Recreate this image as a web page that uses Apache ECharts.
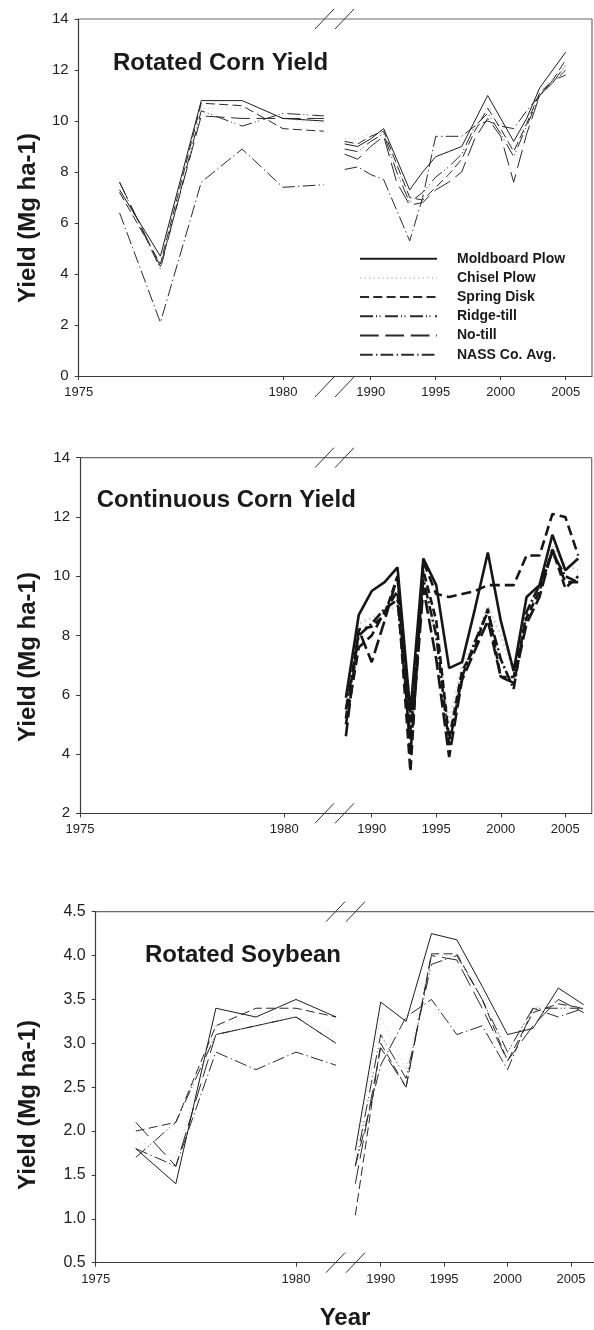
<!DOCTYPE html>
<html><head><meta charset="utf-8">
<script src="https://cdn.jsdelivr.net/npm/echarts@6/dist/echarts.min.js"></script>
<style>html,body{margin:0;padding:0;background:#fff}#c{width:594px;height:1330px}</style>
</head><body><div id="c"></div>
<script>
// ---------------- DATA ----------------
const seriesNames = ['Moldboard Plow', 'Chisel Plow', 'Spring Disk', 'Ridge-till', 'No-till', 'NASS Co. Avg.'];
const panelTitles = ['Rotated Corn Yield', 'Continuous Corn Yield', 'Rotated Soybean'];
const leftTickYears = [1975, 1980];
const rightTickYears = [1990, 1995, 2000, 2005];

// Rotated corn (order of rows = seriesNames)
const rcLeftYears = [1976, 1977, 1978, 1979, 1980, 1981];
const rcLeftValues = [
  [7.3, 4.7, 10.8, 10.8, 10.1, 10.0],
  [7.3, 4.6, 10.5, 10.5, 10.1, 9.9],
  [7.2, 4.4, 10.7, 10.6, 9.7, 9.6],
  [7.6, 4.2, 10.4, 9.8, 10.3, 10.2],
  [7.6, 4.3, 10.2, 10.1, 10.1, 10.1],
  [6.4, 2.1, 7.6, 8.9, 7.4, 7.5]
];
const rcRightYears = [1988, 1989, 1990, 1991, 1992, 1993, 1994, 1995, 1996, 1997, 1998, 1999, 2000, 2001, 2002, 2003, 2004, 2005];
const rcRightValues = [
  [9.1, 9.0, 9.3, 9.7, 8.5, 7.3, 8.0, 8.6, 8.8, 9.0, 10.0, 11.0, 10.1, 9.2, 10.1, 11.3, 12.0, 12.7],
  [9.3, 9.3, 9.5, 9.5, 8.2, 7.0, 7.1, 7.6, 8.0, 8.6, 9.7, 10.6, 9.9, 8.9, 10.0, 11.2, 11.7, 12.1],
  [9.2, 9.1, 9.4, 9.6, 8.3, 7.0, 6.9, 7.4, 7.9, 8.5, 9.6, 10.5, 9.7, 8.8, 9.9, 11.1, 11.6, 12.4],
  [8.9, 8.8, 9.2, 9.5, 8.0, 6.8, 7.2, 7.8, 8.2, 8.7, 9.8, 10.3, 9.5, 8.6, 9.8, 11.0, 11.5, 12.2],
  [8.7, 8.5, 9.0, 9.4, 7.6, 6.7, 6.8, 7.3, 7.6, 8.0, 9.3, 10.1, 9.4, 7.6, 9.5, 11.0, 11.6, 11.8],
  [8.1, 8.2, 7.9, 7.7, 6.5, 5.3, 7.0, 9.4, 9.4, 9.4, 9.8, 10.0, 9.8, 9.7, 10.4, 11.0, 11.5, 12.0]
];

// Continuous corn
const ccRightYears = [1988, 1989, 1990, 1991, 1992, 1993, 1994, 1995, 1996, 1997, 1998, 1999, 2000, 2001, 2002, 2003, 2004, 2005, 2006];
const ccRightValues = [
  [5.9, 8.7, 9.5, 9.8, 10.3, 5.4, 10.6, 9.7, 6.9, 7.1, 8.9, 10.8, 8.5, 6.8, 9.3, 9.7, 11.4, 10.2, 10.6],
  [5.6, 8.4, 8.6, 8.8, 9.0, 5.0, 9.8, 8.0, 5.0, 7.0, 7.8, 9.0, 8.0, 6.8, 8.8, 9.6, 11.0, 10.4, 10.2],
  [5.2, 8.2, 8.3, 8.7, 10.0, 4.8, 10.2, 8.5, 4.5, 6.8, 7.6, 8.9, 6.6, 6.6, 8.6, 9.5, 10.9, 9.6, 10.0],
  [5.5, 8.0, 8.4, 8.9, 9.2, 4.5, 9.9, 8.0, 4.3, 6.6, 7.8, 8.8, 7.2, 6.2, 8.8, 9.7, 10.8, 10.0, 9.8],
  [4.6, 8.2, 7.1, 8.5, 10.0, 4.0, 9.6, 7.2, 3.9, 6.5, 7.5, 8.5, 6.6, 6.4, 8.4, 9.3, 10.9, 9.8, 9.8],
  [5.0, 7.6, 8.0, 8.8, 9.5, 3.4, 10.5, 9.4, 9.3, 9.4, 9.5, 9.7, 9.7, 9.7, 10.7, 10.7, 12.1, 12.0, 10.7]
];

// Rotated soybean
const rsLeftYears = [1976, 1977, 1978, 1979, 1980, 1981];
const rsLeftValues = [
  [1.8, 1.4, 3.4, 3.3, 3.5, 3.3],
  [1.9, 1.7, 3.2, 3.3, 3.3, 3.1],
  [2.0, 2.1, 3.2, 3.4, 3.4, 3.3],
  [1.7, 2.1, 3.1, 3.2, 3.3, 3.0],
  [2.1, 1.6, 3.1, 3.2, 3.3, 3.0],
  [1.8, 1.6, 2.9, 2.7, 2.9, 2.75]
];
const rsRightYears = [1988, 1990, 1992, 1994, 1996, 1998, 2000, 2002, 2004, 2006];
const rsRightValues = [
  [1.78, 3.47, 3.25, 4.25, 4.18, 3.65, 3.1, 3.17, 3.63, 3.44],
  [1.7, 3.3, 2.7, 4.0, 4.0, 3.6, 2.9, 3.4, 3.5, 3.35],
  [1.04, 3.0, 2.5, 4.02, 4.02, 3.5, 2.8, 3.35, 3.45, 3.4],
  [1.6, 3.1, 2.6, 3.9, 4.0, 3.5, 2.9, 3.4, 3.4, 3.4],
  [1.4, 2.95, 2.5, 4.0, 3.95, 3.4, 2.8, 3.2, 3.5, 3.35],
  [1.6, 2.75, 3.3, 3.5, 3.1, 3.2, 2.7, 3.4, 3.3, 3.4]
];

// ---------------- LAYOUT / STYLE ----------------
const FONT = '"Liberation Sans", Arial, Helvetica, sans-serif';
const panels = [
  { top: 19, bottom: 376, L: 78.7, x1980: 283, bx: 335, x1990: 370.7, x2005: 565.7, R: 592, rightBorder: true,
    yMin: 0, yMax: 14, yInt: 2, dec: 0, yFont: 15, thick: false, botSlashOff: 11,
    titleX: 113, titleY: 63, yTitleY: 218,
    left: { years: rcLeftYears, values: rcLeftValues }, right: { years: rcRightYears, values: rcRightValues } },
  { top: 457.7, bottom: 813.3, L: 80, x1980: 284.3, bx: 335, x1990: 371.7, x2005: 565.3, R: 591.7, rightBorder: true,
    yMin: 2, yMax: 14, yInt: 2, dec: 0, yFont: 15, thick: true, botSlashOff: 0,
    titleX: 96.7, titleY: 500, yTitleY: 657,
    left: null, right: { years: ccRightYears, values: ccRightValues } },
  { top: 911.7, bottom: 1262.7, L: 95.7, x1980: 296, bx: 346, x1990: 380.7, x2005: 571, R: 594, rightBorder: false,
    yMin: 0.5, yMax: 4.5, yInt: 0.5, dec: 1, yFont: 16, thick: false, botSlashOff: 0,
    titleX: 145, titleY: 955, yTitleY: 1105,
    left: { years: rsLeftYears, values: rsLeftValues }, right: { years: rsRightYears, values: rsRightValues } }
];

const thinStyles = [
  { color: '#1e1e1e', width: 1, type: 'solid' },
  { color: '#c4c4c4', width: 1, type: [1, 3.5] },
  { color: '#2a2a2a', width: 1, type: [9, 4.3] },
  { color: '#2a2a2a', width: 1, type: [13, 3, 1, 2.5, 1, 4.5] },
  { color: '#2a2a2a', width: 1, type: [18.7, 6.7] },
  { color: '#2a2a2a', width: 1, type: [12.7, 3.3, 1.3, 3.3] }
];
const thickStyles = [
  { color: '#161616', width: 2.6, type: 'solid' },
  { color: '#d6d6d6', width: 2.6, type: [2, 3] },
  { color: '#161616', width: 2.6, type: [8, 4] },
  { color: '#161616', width: 2.6, type: [11, 3, 2, 3] },
  { color: '#161616', width: 2.6, type: [14, 5] },
  { color: '#161616', width: 2.6, type: [10, 5] }
];

const grids = [], xAxes = [], yAxes = [], series = [], graphics = [];
const AX = '#3a3a3a', BORDER = '#6a6a6a';

panels.forEach((p, pi) => {
  const pxLeft = (p.x1980 - p.L) / 5;
  const pxRight = (p.x2005 - p.x1990) / 15;
  const lMax = 1975 + (p.bx - p.L) / pxLeft;
  const rMin = 1990 - (p.x1990 - p.bx) / pxRight;
  const rMax = 2005 + (p.R - p.x2005) / pxRight;
  const h = p.bottom - p.top;
  const gi = grids.length;
  grids.push({ left: p.L, top: p.top, width: p.bx - p.L, height: h });
  grids.push({ left: p.bx, top: p.top, width: p.R - p.bx, height: h });

  const xCommon = (min, max, ticks, gridIndex) => ({
    type: 'value', gridIndex, min, max,
    axisLine: { show: true, onZero: false, lineStyle: { color: AX, width: 1.2 } },
    axisTick: { show: true, length: 4, inside: false, customValues: ticks, lineStyle: { color: AX } },
    axisLabel: { show: true, customValues: ticks, margin: 10, color: '#222', fontSize: 13, fontFamily: FONT,
      formatter: v => String(Math.round(v)) },
    splitLine: { show: false }
  });
  xAxes.push(xCommon(1975, lMax, leftTickYears, gi));
  xAxes.push(xCommon(rMin, rMax, rightTickYears, gi + 1));

  yAxes.push({
    type: 'value', gridIndex: gi, min: p.yMin, max: p.yMax, interval: p.yInt,
    axisLine: { show: true, lineStyle: { color: AX, width: 1.2 } },
    axisTick: { show: true, length: 4, lineStyle: { color: AX } },
    axisLabel: { margin: 10, color: '#222', fontSize: p.yFont, fontFamily: FONT, formatter: v => v.toFixed(p.dec) },
    splitLine: { show: false }
  });
  yAxes.push({ type: 'value', gridIndex: gi + 1, min: p.yMin, max: p.yMax, interval: p.yInt, show: false, splitLine: { show: false } });

  const styles = p.thick ? thickStyles : thinStyles;
  [['left', gi], ['right', gi + 1]].forEach(([side, idx]) => {
    const d = p[side];
    if (!d) return;
    seriesNames.forEach((name, si) => {
      series.push({
        type: 'line', name, xAxisIndex: idx, yAxisIndex: idx,
        data: d.years.map((yr, j) => [yr, d.values[si][j]]),
        symbol: 'none', showSymbol: false, silent: true, animation: false,
        lineStyle: Object.assign({}, styles[si]), z: si === 0 ? 3 : 2
      });
    });
  });

  // frame: top & right
  graphics.push({ type: 'line', silent: true, shape: { x1: p.L, y1: p.top, x2: p.R, y2: p.top }, style: { stroke: BORDER, lineWidth: 1.2 } });
  if (p.rightBorder) graphics.push({ type: 'line', silent: true, shape: { x1: p.R, y1: p.top, x2: p.R, y2: p.bottom }, style: { stroke: BORDER, lineWidth: 1.2 } });
  // break marks
  const slash = (xa, yb) => ({ type: 'line', silent: true, shape: { x1: xa, y1: yb + 10, x2: xa + 19, y2: yb - 10 }, style: { stroke: '#333', lineWidth: 1 } });
  graphics.push(slash(p.bx - 20, p.top), slash(p.bx, p.top));
  graphics.push(slash(p.bx - 20, p.bottom + p.botSlashOff), slash(p.bx, p.bottom + p.botSlashOff));
  // panel title
  graphics.push({ type: 'text', silent: true, x: p.titleX, y: p.titleY,
    style: { text: panelTitles[pi], fill: '#1a1a1a', font: 'bold 24px ' + FONT, align: 'left', verticalAlign: 'middle' } });
  // y-axis title
  graphics.push({ type: 'text', silent: true, x: 28, y: p.yTitleY, rotation: Math.PI / 2,
    style: { text: 'Yield (Mg ha-1)', fill: '#1a1a1a', font: 'bold 24px ' + FONT, align: 'center', verticalAlign: 'middle' } });
});

graphics.push({ type: 'text', silent: true, x: 345, y: 1318,
  style: { text: 'Year', fill: '#1a1a1a', font: 'bold 24px ' + FONT, align: 'center', verticalAlign: 'middle' } });

const chart = echarts.init(document.getElementById('c'), null, { renderer: 'canvas' });
chart.setOption({
  backgroundColor: '#fff',
  animation: false,
  grid: grids,
  xAxis: xAxes,
  yAxis: yAxes,
  legend: {
    show: true, orient: 'vertical', left: 359, top: 251.7, padding: 0,
    itemWidth: 77, itemHeight: 14, itemGap: 5.2,
    data: seriesNames, selectedMode: false,
    itemStyle: { color: 'rgba(0,0,0,0)', borderColor: 'rgba(0,0,0,0)', borderWidth: 0 },
    textStyle: { fontSize: 14, fontWeight: 'bold', color: '#1a1a1a', fontFamily: FONT, padding: [0, 0, 0, 15] }
  },
  graphic: { elements: graphics },
  series
});
</script>
</body></html>
